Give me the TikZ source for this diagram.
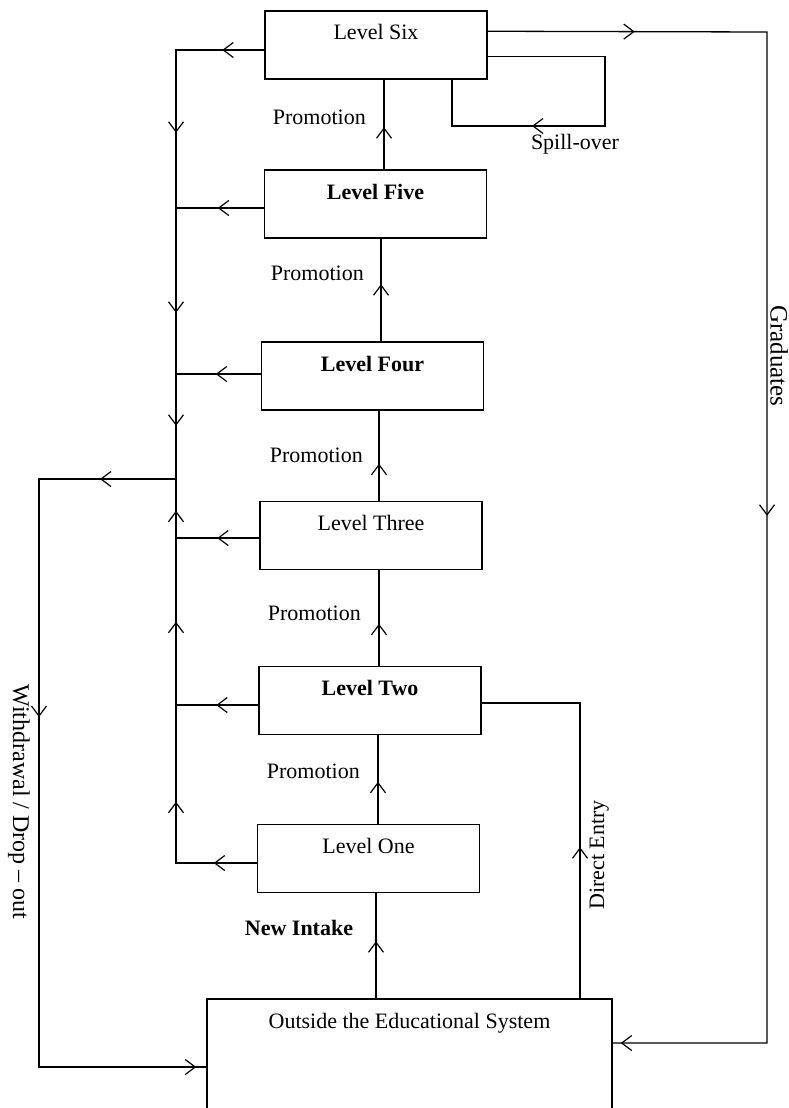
\documentclass[tikz,border=0pt]{standalone}
\usepackage{fontspec}
\setmainfont{Liberation Serif}
\usetikzlibrary{arrows.meta,decorations.markings,calc}
\tikzset{
  am/.style={postaction={decorate,decoration={markings,mark=at position #1 with {\arrow{Straight Barb[length=10pt,width=15pt,line width=1.2pt]}}}}},
  lvl/.style={draw,line width=1.5pt,minimum width=222pt,minimum height=68pt,inner sep=0pt,
    text height=29pt,text depth=39pt,font=\fontsize{22}{26}\selectfont},
  bfl/.style={font=\fontsize{22}{26}\selectfont\bfseries},
  conn/.style={line width=1.3pt},
  lab/.style={font=\fontsize{22}{26}\selectfont,inner sep=0pt},
}
\begin{document}
\begin{tikzpicture}[x=1pt,y=-1pt]
\useasboundingbox (0,0) rectangle (788,1108);

% boxes
\node[lvl] (L6) at (376,45) {Level Six};
\node[lvl,bfl] (L5) at (375.5,204) {Level Five};
\node[lvl,bfl] (L4) at (372.5,376) {Level Four};
\node[lvl] (L3) at (371,535.5) {Level Three};
\node[lvl,bfl] (L2) at (370,700.5) {Level Two};
\node[lvl] (L1) at (368.5,858.5) {Level One};
\node[lvl,minimum width=405pt,minimum height=160pt,text height=29pt,text depth=131pt] (O) at (409.5,1079) {Outside the Educational System};

% helper coordinates
\coordinate (J) at (176,479);
\coordinate (WT) at (39,479);
\coordinate (GR) at (767,32);
\coordinate (SP) at (605,126);
\coordinate (SL) at (452,126);
\coordinate (DE) at (580,703);

% promotions
\draw[conn,am=42pt] ([xshift=8.5pt]L5.north) -- ([xshift=8.5pt]L5.north |- L6.south);
\draw[conn,am=57pt] ([xshift=8.5pt]L4.north) -- ([xshift=8.5pt]L4.north |- L5.south);
\draw[conn,am=37pt] ([xshift=8pt]L3.north) -- ([xshift=8pt]L3.north |- L4.south);
\draw[conn,am=42pt] ([xshift=9pt]L2.north) -- ([xshift=9pt]L2.north |- L3.south);
\draw[conn,am=42pt] ([xshift=9.5pt]L1.north) -- ([xshift=9.5pt]L1.north |- L2.south);
\draw[conn,am=57pt] ([xshift=7.5pt]L1.south |- O.north) -- ([xshift=7.5pt]L1.south);

% collector (left)
\draw[conn,am=42pt,am=171pt,am=351pt,am=464pt] ([yshift=-5pt]L6.west) -| (J);
\draw[conn,am=46pt] ([yshift=-4pt]L5.west) -- ([yshift=-4pt]L5.west -| J);
\draw[conn,am=45pt] ([yshift=2pt]L4.west) -- ([yshift=2pt]L4.west -| J);
\draw[conn,am=42pt] ([yshift=-2.5pt]L3.west) -- ([yshift=-2.5pt]L3.west -| J);
\draw[conn,am=42pt] ([yshift=-4.5pt]L2.west) -- ([yshift=-4.5pt]L2.west -| J);
\draw[conn,am=43pt,am=142pt,am=322pt,am=433pt] ([yshift=-4.5pt]L1.west) -| (J);

% withdrawal / drop-out
\draw[conn,am=76pt,am=375pt,am=-10pt] (J) -- (WT) |- ([yshift=12pt]O.west);

% graduates
\draw[conn,am=147pt,am=763pt,am=-8pt] ([yshift=-21pt]L6.north east) -- (GR) |- ([yshift=36pt]O.east);

% spill-over
\draw[conn,am=260pt] ([yshift=-46pt]L6.north east) -| (SP) -- (SL) -- (SL |- L6.south);

% direct entry
\draw[conn,am=151pt] (O.north -| DE) -- (DE) -- (DE -| L2.east);

% labels
\node[lab,anchor=base east] (p1) at (366,124) {Promotion};
\node[lab,anchor=base east] (p2) at (364,280) {Promotion};
\node[lab,anchor=base east] (p3) at (363,462) {Promotion};
\node[lab,anchor=base east] (p4) at (361,620) {Promotion};
\node[lab,anchor=base east] (p5) at (360,778) {Promotion};
\node[lab,anchor=base] (spl) at (575,149) {Spill-over};
\node[lab,anchor=base,font=\fontsize{22}{26}\selectfont\bfseries] (ni) at (299,935) {New Intake};
\node[lab,anchor=base,rotate=90] (de) at (604,855) {Direct Entry};
\node[lab,anchor=base,rotate=-90,font=\fontsize{24}{28}\selectfont] (wd) at (13,802) {Withdrawal / Drop – out};
\node[lab,anchor=base,rotate=-90,font=\fontsize{25}{30}\selectfont] (gr) at (770.5,356) {Graduates};
\end{tikzpicture}
\end{document}
